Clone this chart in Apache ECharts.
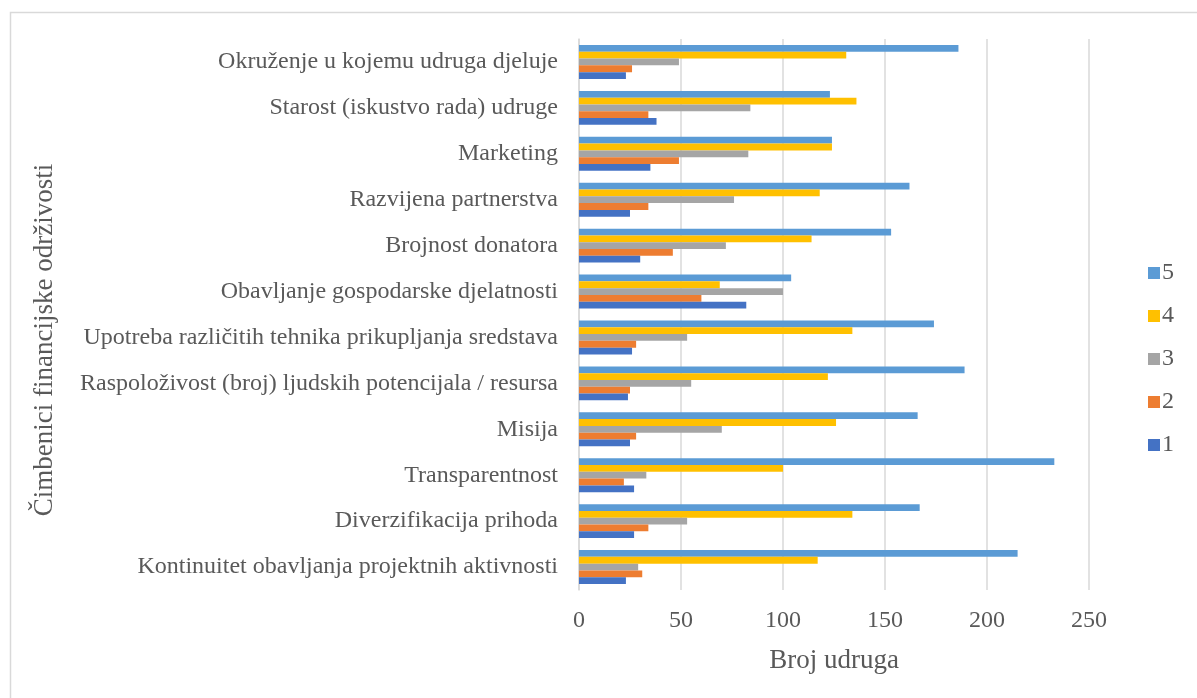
<!DOCTYPE html>
<html>
<head>
<meta charset="utf-8">
<script src="https://cdn.jsdelivr.net/npm/echarts@6/dist/echarts.min.js"></script>
<style>html,body{margin:0;padding:0;background:#fff}#c{width:1197px;height:698px}</style>
</head>
<body>
<div id="c"></div>
<script>
const categories = [
  'Okruženje u kojemu udruga djeluje',
  'Starost (iskustvo rada) udruge',
  'Marketing',
  'Razvijena partnerstva',
  'Brojnost donatora',
  'Obavljanje gospodarske djelatnosti',
  'Upotreba različitih tehnika prikupljanja sredstava',
  'Raspoloživost (broj) ljudskih potencijala / resursa',
  'Misija',
  'Transparentnost',
  'Diverzifikacija prihoda',
  'Kontinuitet obavljanja projektnih aktivnosti'
];
const s5 = [186, 123, 124, 162, 153, 104, 174, 189, 166, 233, 167, 215];
const s4 = [131, 136, 124, 118, 114, 69, 134, 122, 126, 100, 134, 117];
const s3 = [49, 84, 83, 76, 72, 100, 53, 55, 70, 33, 53, 29];
const s2 = [26, 34, 49, 34, 46, 60, 28, 25, 28, 22, 34, 31];
const s1 = [23, 38, 35, 25, 30, 82, 26, 24, 25, 27, 27, 23];
const xTicks = [0, 50, 100, 150, 200, 250];
const yTitle = 'Čimbenici financijske održivosti';
const xTitle = 'Broj udruga';

const font = '"Liberation Serif", "Times New Roman", serif';
const txt = '#595959';
const colors = {'5':'#5B9BD5','4':'#FFC000','3':'#A5A5A5','2':'#ED7D31','1':'#4472C4'};
const seriesData = [['5', s5], ['4', s4], ['3', s3], ['2', s2], ['1', s1]];

const chart = echarts.init(document.getElementById('c'));
chart.setOption({
  backgroundColor: '#fff',
  animation: false,
  graphic: [{
    type: 'rect', left: 8, top: 10,
    shape: {width: 1200, height: 700},
    style: {fill: 'none', stroke: '#d9d9d9', lineWidth: 1.5},
    silent: true
  }, {
    type: 'text', x: 45, y: 340, rotation: Math.PI / 2,
    style: {text: yTitle, font: '27px ' + font, fill: txt, align: 'center', verticalAlign: 'middle'},
    silent: true
  }],
  grid: {left: 579, right: 108, top: 39, bottom: 108, containLabel: false},
  legend: {
    orient: 'vertical',
    left: 1143, top: 256,
    itemWidth: 12, itemHeight: 12, itemGap: 19,
    icon: 'rect',
    data: ['5', '4', '3', '2', '1'],
    textStyle: {fontFamily: font, fontSize: 24, color: txt, padding: [0, 0, 0, -3]}
  },
  xAxis: {
    type: 'value', min: xTicks[0], max: xTicks[xTicks.length - 1], interval: 50,
    axisLine: {show: false}, axisTick: {show: false},
    splitLine: {lineStyle: {color: '#d9d9d9', width: 1.5}},
    axisLabel: {fontFamily: font, fontSize: 24, color: txt, margin: 19},
    name: xTitle, nameLocation: 'middle', nameGap: 57,
    nameTextStyle: {fontFamily: font, fontSize: 27, color: txt}
  },
  yAxis: {
    type: 'category', data: categories, inverse: true,
    axisLine: {show: true, lineStyle: {color: '#d9d9d9', width: 1.5}},
    axisTick: {show: false},
    axisLabel: {fontFamily: font, fontSize: 24, color: txt, margin: 21}
  },
  series: seriesData.map(([n, d]) => ({
    name: n, type: 'bar', data: d,
    barGap: '0%', barCategoryGap: '26%',
    itemStyle: {color: colors[n]}
  }))
});
</script>
</body>
</html>
